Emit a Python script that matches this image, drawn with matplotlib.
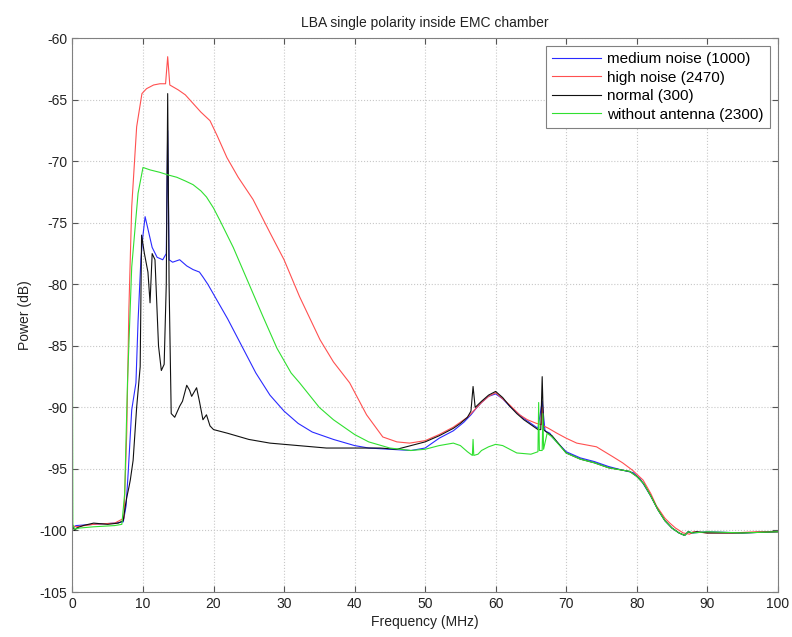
import matplotlib
matplotlib.use("Agg")
import matplotlib.pyplot as plt

plt.rcParams['font.family'] = ['Liberation Sans', 'DejaVu Sans']
plt.rcParams['axes.unicode_minus'] = False

# medium noise (1000) - blue
med_f = [0, 0.5, 3, 6, 7.2, 7.6, 7.9, 8.4, 9.0, 9.3, 9.7, 10.0, 10.3, 10.7, 11.3, 12.0, 12.8, 13.3,
         13.5, 13.7, 14.2, 15.2, 16.2, 17.1, 18.0, 18.5, 19.2, 20.0, 20.5, 21.0, 22.0, 24.0, 26.0,
         28.0, 30.0, 32.0, 34.0, 37.0, 40.0, 42.0, 45.0, 48.0, 50.0, 52.0, 54.0, 55.5, 56.5, 57.2,
         58, 59, 60, 61, 62, 63, 64, 65, 66, 66.6, 67, 67.7, 68, 70, 72, 74, 76, 78, 79.5, 80.5, 82,
         83, 84, 85, 86, 86.8, 87.3, 88, 90, 95, 100]
med_p = [-99.8, -99.6, -99.5, -99.4, -99.3, -98, -95.3, -90.2, -88, -83, -78, -76, -74.5, -75.5,
         -77, -77.8, -78, -77.5, -67.5, -78, -78.2, -78, -78.5, -78.8, -79, -79.4, -80, -80.8,
         -81.3, -81.8, -82.8, -85, -87.2, -89, -90.3, -91.3, -92, -92.6, -93.1, -93.3, -93.4, -93.5,
         -93.3, -92.5, -91.9, -91.2, -90.6, -90.1, -89.6, -89.1, -88.9, -89.3, -89.9, -90.4, -90.9,
         -91.3, -91.7, -89.5, -91.9, -92.1, -92.4, -93.6, -94.1, -94.4, -94.8, -95.1, -95.3, -95.8,
         -97.2, -98.3, -99.2, -99.8, -100.2, -100.4, -100.1, -100.2, -100.1, -100.2, -100.1]

# high noise (2470) - red
high_f = [0, 0.5, 3, 6, 7.3, 7.7, 8.0, 8.4, 9.1, 9.85, 10.5, 11.5, 12.4, 13.2, 13.5, 13.8, 15, 16,
          17.1, 18.2, 19.5, 20.5, 21.9, 23.5, 25.6, 28, 30, 32.2, 35.1, 37, 39.3, 41.7, 44, 46,
          47.8, 50, 52, 54, 56, 57, 58, 59, 60, 61, 62, 63.4, 64.5, 65.8, 66.5, 66.6, 66.8, 67.5,
          68.7, 70, 71.5, 74.3, 76.6, 78, 79.4, 80.9, 82, 82.8, 84, 84.7, 85.5, 86.6, 87.5, 88, 90,
          93.6, 97, 100]
high_p = [-99.6, -99.7, -99.5, -99.4, -99.0, -92, -82, -73.7, -67.2, -64.5, -64.1, -63.8, -63.7,
          -63.7, -61.5, -63.8, -64.2, -64.6, -65.3, -66, -66.7, -67.9, -69.7, -71.3, -73.1, -75.8,
          -78.0, -81.0, -84.5, -86.3, -88.0, -90.6, -92.4, -92.8, -92.9, -92.7, -92.2, -91.6,
          -90.8, -90.2, -89.6, -89.1, -88.8, -89.3, -89.8, -90.6, -91, -91.3, -91.4, -90, -91.5,
          -91.7, -92.1, -92.5, -92.9, -93.2, -94.0, -94.5, -95.1, -95.9, -97, -98, -99, -99.4,
          -99.8, -100.2, -100.3, -100.1, -100.2, -100.2, -100.1, -100.1]

# normal (300) - black
norm_f = [0, 0.3, 0.6, 1.5, 3, 5, 6.5, 7.2, 7.5, 7.7, 8.0, 8.2, 8.6, 9.1, 9.6, 9.8, 10.2, 10.7,
          11.0, 11.3, 11.7, 12.2, 12.6, 13.0, 13.3, 13.5, 13.7, 14.0, 14.5, 15.2, 15.6, 16.2, 16.6,
          16.9, 17.6, 18.0, 18.5, 19.0, 19.5, 20.0, 22.0, 25, 28, 32, 36, 40, 43.6, 46, 48, 50, 52,
          54, 55, 56, 56.5, 56.8, 57.1, 58, 59, 60, 61, 62, 63, 64, 65, 66, 66.4, 66.6, 66.8, 67.2,
          68, 70, 72, 74, 76, 78, 79, 80, 81, 82, 83, 84, 85, 86, 86.8, 87.3, 87.8, 88.5, 90, 95,
          100]
norm_p = [-99.6, -100, -99.8, -99.6, -99.4, -99.5, -99.4, -99.2, -98, -97.3, -96.5, -95.9, -94.3,
          -90, -86.7, -76, -77.5, -79, -81.5, -77.5, -78, -85, -87, -86.5, -80, -64.5, -80, -90.5,
          -90.8, -89.9, -89.5, -88.2, -88.6, -89.1, -88.4, -89.5, -91, -90.6, -91.5, -91.8, -92.1,
          -92.6, -92.9, -93.1, -93.3, -93.3, -93.3, -93.4, -93.1, -92.8, -92.3, -91.7, -91.3,
          -90.8, -90.3, -88.3, -90, -89.5, -89, -88.7, -89.2, -89.9, -90.5, -91, -91.4, -91.8,
          -91.8, -87.5, -91.8, -92, -92.3, -93.7, -94.2, -94.5, -94.9, -95.1, -95.2, -95.6, -96.2,
          -97.2, -98.3, -99.2, -99.8, -100.2, -100.4, -100.1, -100.2, -100.1, -100.2, -100.2,
          -100.1]

# without antenna (2300) - green
noant_f = [0, 0.05, 0.3, 1, 3, 6, 7.0, 7.4, 7.8, 8.4, 9.3, 10.0, 11, 12.4, 13.5, 14.8, 16, 17.1,
           18.2, 19.0, 20.0, 20.9, 22.8, 25.2, 27, 29, 31, 32.2, 35, 37, 40, 42, 45, 48, 50, 52,
           54, 55, 56, 56.7, 56.8, 56.9, 57.5, 58, 59, 60, 61, 62, 63, 65, 66, 66.1, 66.2, 66.6,
           66.7, 66.8, 67.3, 68, 70, 72, 74, 76, 78, 79, 80, 81, 82, 83, 84, 85, 86, 86.8, 87.3,
           88, 90, 95, 100]
noant_p = [-86, -99.5, -99.9, -99.8, -99.7, -99.6, -99.5, -97, -88, -78.6, -72.6, -70.5, -70.7,
           -70.9, -71.1, -71.3, -71.6, -71.9, -72.4, -72.9, -73.8, -74.8, -77, -80.2, -82.6, -85.2,
           -87.2, -88, -90, -91, -92.2, -92.8, -93.3, -93.5, -93.4, -93.1, -92.9, -93.1, -93.6,
           -93.9, -92.6, -93.9, -93.8, -93.5, -93.2, -93, -93.1, -93.4, -93.7, -93.8, -93.6, -89.6,
           -93.5, -93.5, -90.5, -93.4, -92.1, -92.4, -93.7, -94.2, -94.5, -94.9, -95.1, -95.2,
           -95.6, -96.2, -97.2, -98.3, -99.2, -99.8, -100.2, -100.4, -100.1, -100.2, -100.1,
           -100.2, -100.1]

labels = ['medium noise (1000)', 'high noise (2470)', 'normal (300)', 'without antenna (2300)']
colors = ['#2a2aff', '#ff5050', '#111111', '#30e030']

fig = plt.figure(figsize=(7.92, 6.37), dpi=100)
ax = fig.add_axes([0.0915, 0.0706, 0.8905, 0.8694])

ax.plot(med_f, med_p, color=colors[0], lw=0.8, label=labels[0])
ax.plot(high_f, high_p, color=colors[1], lw=0.8, label=labels[1])
ax.plot(norm_f, norm_p, color=colors[2], lw=0.8, label=labels[2])
ax.plot(noant_f, noant_p, color=colors[3], lw=0.8, label=labels[3])

ax.set_xlim(0, 100)
ax.set_ylim(-105, -60)
ax.set_xticks(range(0, 101, 10))
ax.set_yticks(range(-105, -59, 5))
ax.grid(True, color='#c8c8c8', linestyle=':', linewidth=0.8)
ax.tick_params(direction='in', top=True, right=True, length=4, labelsize=10,
               colors='#555555', labelcolor='#222222')
for s in ax.spines.values():
    s.set_color('#808080')

ax.set_title('LBA single polarity inside EMC chamber', fontsize=10, color='#222222', pad=8)
ax.set_xlabel('Frequency (MHz)', fontsize=10, color='#222222', labelpad=3)
ax.set_ylabel('Power (dB)', fontsize=10, color='#222222', labelpad=6)

leg = ax.legend(loc='upper right', fontsize=11, handlelength=3.2, handletextpad=0.4,
                fancybox=False, framealpha=1, edgecolor='#808080', borderaxespad=0.5,
                labelspacing=0.3, borderpad=0.4)
leg.get_frame().set_linewidth(0.8)

fig.savefig('out.png', dpi=100)
